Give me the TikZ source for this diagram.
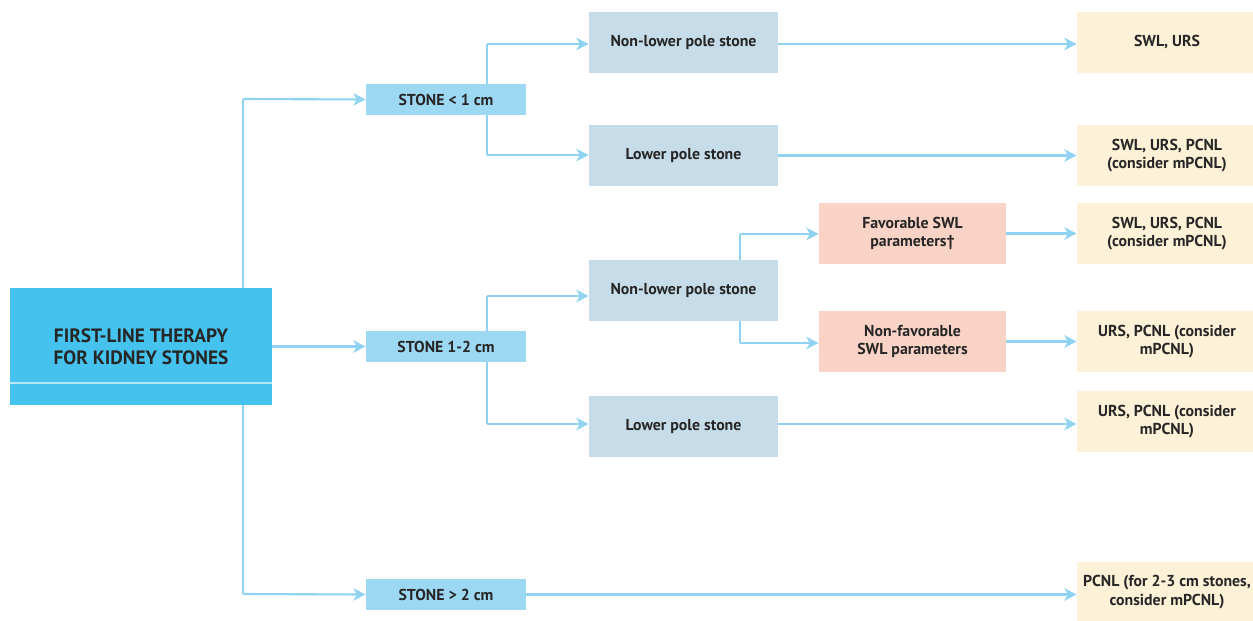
\documentclass[tikz,border=0pt]{standalone}
\usepackage{fontspec}
\setmainfont{PT Sans}
\usetikzlibrary{arrows.meta,backgrounds}
\definecolor{mainblue}{HTML}{45C3EE}
\definecolor{stoneblue}{HTML}{9DD8F3}
\definecolor{poleblue}{HTML}{C6DCE8}
\definecolor{swlpink}{HTML}{F9D4C6}
\definecolor{resultyellow}{HTML}{FDF2D7}
\definecolor{linkblue}{HTML}{8FD2F1}
\begin{document}
\begin{tikzpicture}[x=0.02cm, y=-0.02cm,
		box/.style={inner sep=0pt, align=center, font=\bfseries\fontsize{9}{10.6}\selectfont, text=black!85},
		mainbox/.style={box, fill=mainblue, minimum width=5.24cm, minimum height=2.34cm, font=\bfseries\fontsize{11}{12.6}\selectfont},
		stonebox/.style={box, fill=stoneblue, minimum width=3.2cm, minimum height=0.62cm},
		polebox/.style={box, fill=poleblue, minimum width=3.78cm, minimum height=1.22cm},
		swlbox/.style={box, fill=swlpink, minimum width=3.74cm, minimum height=1.22cm},
		resultbox/.style={box, fill=resultyellow, minimum width=3.6cm, minimum height=1.22cm},
		link/.style={linkblue, line width=1.2pt, -{Stealth[length=7pt, width=7pt, inset=2pt]}},
		trunk/.style={linkblue, line width=1.2pt}]
		\useasboundingbox (0,0) rectangle (1253,621);

		\node[mainbox] (main) at (141,346.5) {FIRST-LINE THERAPY\\FOR KIDNEY STONES};
		\draw[white!60!mainblue, line width=0.6pt] (main.west |- 0,383) -- (main.east |- 0,383);

		\node[stonebox] (small) at (446,99.5) {STONE < 1 cm};
		\node[stonebox] (medium) at (446,346.5) {STONE 1-2 cm};
		\node[stonebox] (large) at (446,594.5) {STONE > 2 cm};

		\node[polebox] (smallnon) at (683.5,42.5) {Non-lower pole stone};
		\node[polebox] (smalllow) at (683.5,155.5) {Lower pole stone};
		\node[polebox] (mednon) at (683.5,290.5) {Non-lower pole stone};
		\node[polebox] (medlow) at (683.5,426.5) {Lower pole stone};

		\node[swlbox] (fav) at (912.5,233.5) {Favorable SWL\\parameters\textdagger};
		\node[swlbox] (nonfav) at (912.5,341.5) {Non-favorable\\SWL parameters};

		\node[resultbox] (res1) at (1167,42.5) {SWL, URS};
		\node[resultbox] (res2) at (1167,155.5) {SWL, URS, PCNL\\(consider mPCNL)};
		\node[resultbox] (res3) at (1167,233.5) {SWL, URS, PCNL\\(consider mPCNL)};
		\node[resultbox] (res4) at (1167,341.5) {URS, PCNL (consider\\mPCNL)};
		\node[resultbox] (res5) at (1167,421.5) {URS, PCNL (consider\\mPCNL)};
		\node[resultbox] (res6) at (1167,592) {PCNL (for 2-3 cm stones,\\consider mPCNL)};

		% vertical runs stay behind the boxes
		\begin{scope}[on background layer]
			\draw[trunk] (243,99) -- (243,594);
			\draw[trunk] (487,44) -- (487,155);
			\draw[trunk] (487,296) -- (487,424);
			\draw[trunk] (740,234) -- (740,343);
		\end{scope}

		\coordinate (tsmall) at (243,99);
		\coordinate (tlarge) at (243,594);
		\draw[link] (tsmall) -- (small.west);
		\draw[link] (main.east) -- (medium.west);
		\draw[link] (tlarge) -- (large.west);

		\draw[link] (487,44) -- (smallnon.west |- 0,44);
		\draw[link] (487,155) -- (smalllow.west |- 0,155);
		\draw[link] (487,296) -- (mednon.west |- 0,296);
		\draw[link] (487,424) -- (medlow.west |- 0,424);
		\draw[link] (740,234) -- (fav.west |- 0,234);
		\draw[link] (740,343) -- (nonfav.west |- 0,343);

		\draw[link] (smallnon.east |- 0,44) -- (res1.west |- 0,44);
		\draw[link] (smalllow.east) -- (res2.west);
		\draw[link] (fav.east) -- (res3.west);
		\draw[link] (nonfav.east) -- (res4.west);
		\draw[link] (medlow.east |- 0,424) -- (res5.west |- 0,424);
		\draw[link] (large.east) -- (res6.west |- large.east);
	\end{tikzpicture}
\end{document}
